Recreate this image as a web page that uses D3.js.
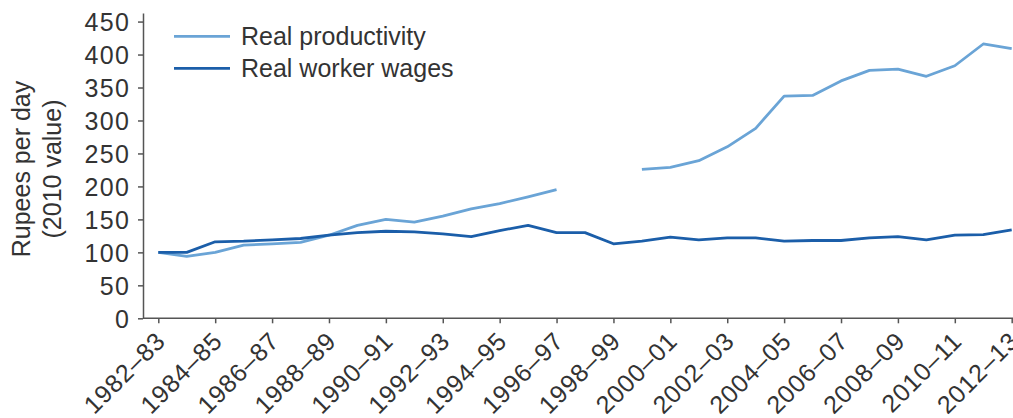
<!DOCTYPE html>
<html>
<head>
<meta charset="utf-8">
<script src="https://cdn.jsdelivr.net/npm/d3@7"></script>
<style>
  html, body { margin: 0; padding: 0; background: #fff; }
  svg { display: block; }
  text { font-family: "Liberation Sans", Arial, sans-serif; fill: #333; }
</style>
</head>
<body>
<svg id="chart" width="1013" height="418"></svg>
<script>
const categories = ["1982–83","1983–84","1984–85","1985–86","1986–87","1987–88","1988–89","1989–90","1990–91","1991–92","1992–93","1993–94","1994–95","1995–96","1996–97","1997–98","1998–99","1999–00","2000–01","2001–02","2002–03","2003–04","2004–05","2005–06","2006–07","2007–08","2008–09","2009–10","2010–11","2011–12","2012–13"];
const productivity = [100, 94, 100, 111, 113, 115, 126, 141, 150, 146, 155, 166, 174, 184, 195, null, null, 226, 229, 239, 260, 288, 337, 338, 360, 376, 378, 367, 383, 416, 409];
const wages = [100, 100, 116, 117, 119, 121, 126, 130, 132, 131, 128, 124, 133, 141, 130, 130, 113, 117, 123, 119, 122, 122, 117, 118, 118, 122, 124, 119, 126, 127, 134];
const yTicks = [0, 50, 100, 150, 200, 250, 300, 350, 400, 450];
const xTickLabels = categories.filter((d, i) => i % 2 === 0);
const seriesNames = ["Real productivity", "Real worker wages"];
const colors = ["#6aa4d6", "#1b5ea9"];

const svg = d3.select("#chart");
const axisX0 = 143, axisY0 = 318.3, axisTop = 13, axisRight = 1013;

const x = d3.scalePoint().domain(categories).range([158.3, 1011.7]);
const y = d3.scaleLinear().domain([0, 463]).range([axisY0, axisTop]);

// Y axis
const yAxis = d3.axisLeft(y).tickValues(yTicks).tickSize(5).tickPadding(9).tickSizeOuter(0);
const gy = svg.append("g").attr("transform", `translate(${axisX0},0)`).call(yAxis);
gy.select(".domain").attr("stroke", "#555").attr("stroke-width", 1.5);
gy.selectAll(".tick line").attr("stroke", "#555").attr("stroke-width", 1.5);
gy.selectAll(".tick text").attr("font-size", 25).attr("fill", "#333")
  .style("font-family", "'Liberation Sans', Arial, sans-serif")
  .style("letter-spacing", "1.4px")
  .attr("dx", "1.4px")
  .attr("dy", "0.36em");

// X axis
const xAxis = d3.axisBottom(x).tickValues(xTickLabels).tickSize(5).tickSizeOuter(0);
const gx = svg.append("g").attr("transform", `translate(0,${axisY0})`).call(xAxis);
gx.select(".domain").remove();
gx.append("line").attr("x1", axisX0).attr("x2", axisRight).attr("y1", 0).attr("y2", 0)
  .attr("stroke", "#555").attr("stroke-width", 1.5);
gx.selectAll(".tick line").attr("stroke", "#555").attr("stroke-width", 1.5);
gx.selectAll(".tick text")
  .attr("font-size", 25).attr("fill", "#333")
  .style("font-family", "'Liberation Sans', Arial, sans-serif")
  .style("letter-spacing", "0.8px")
  .attr("text-anchor", "end")
  .attr("x", 0).attr("y", 0).attr("dy", "0.35em")
  .attr("transform", "translate(2,18) rotate(-45)");

// Y axis title
const title = svg.append("g").attr("transform", "translate(0,169) rotate(-90)");
title.append("text").attr("x", 0).attr("y", 30).attr("text-anchor", "middle")
  .attr("font-size", 25).text("Rupees per day");
title.append("text").attr("x", 0).attr("y", 61).attr("text-anchor", "middle")
  .attr("font-size", 25).text("(2010 value)");

// Lines
const line = d3.line()
  .defined(d => d.v !== null)
  .x(d => x(d.c))
  .y(d => y(d.v));

[productivity, wages].forEach((arr, k) => {
  const data = categories.map((c, i) => ({ c, v: arr[i] }));
  svg.append("path").datum(data)
    .attr("fill", "none")
    .attr("stroke", colors[k])
    .attr("stroke-width", 2.8)
    .attr("stroke-linejoin", "round")
    .attr("d", line);
});

// Legend
const legendY = [36.3, 68.3];
seriesNames.forEach((name, k) => {
  svg.append("line").attr("x1", 174).attr("x2", 230)
    .attr("y1", legendY[k]).attr("y2", legendY[k])
    .attr("stroke", colors[k]).attr("stroke-width", 2.8);
  svg.append("text").attr("x", 241).attr("y", legendY[k]).attr("dy", "0.36em")
    .attr("font-size", 25).text(name);
});
</script>
</body>
</html>
